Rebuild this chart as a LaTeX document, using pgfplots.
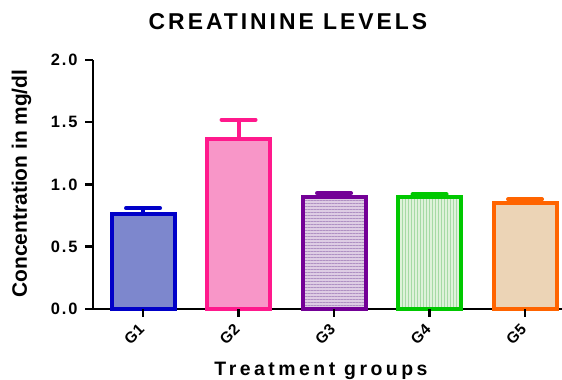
\documentclass[border=0pt]{standalone}
\usepackage{pgfplots}
\pgfplotsset{compat=1.18}
\usepackage{fontspec}
\setmainfont{Liberation Sans}
\usetikzlibrary{patterns.meta}
\definecolor{b1}{RGB}{0,0,200}
\definecolor{f1}{RGB}{125,135,205}
\definecolor{b2}{RGB}{255,25,140}
\definecolor{f2}{RGB}{248,150,200}
\definecolor{b3}{RGB}{115,0,150}
\definecolor{f3}{RGB}{222,205,228}
\definecolor{p3}{RGB}{175,145,195}
\definecolor{b4}{RGB}{0,200,0}
\definecolor{f4}{RGB}{222,242,218}
\definecolor{p4}{RGB}{165,218,165}
\definecolor{b5}{RGB}{255,100,0}
\definecolor{f5}{RGB}{236,212,182}
\newcommand{\ticklabfont}{\bfseries\fontsize{16.5}{18}\selectfont\addfontfeatures{LetterSpace=12}}
\pgfplotsset{
  mybar/.style={ybar, bar width=63bp, bar shift=0pt, draw=#1, line width=4bp,
    error bars/y dir=plus, error bars/y explicit,
    error bars/error bar style={line width=4bp, #1},
    error bars/error mark options={rotate=90, line width=4bp, #1, mark size=17bp, line cap=round}},
}
\begin{document}
\begin{tikzpicture}
\begin{axis}[
  at={(0,0)}, anchor=south west,
  scale only axis, width=469bp, height=249bp,
  xmin=-0.524, xmax=4.387, ymin=0, ymax=2,
  axis x line=bottom, axis y line=left,
  axis line style={line width=2.5bp, black, -},
  tick align=outside,
  ytick={0,0.5,1,1.5,2},
  yticklabels={0.0,0.5,1.0,1.5,2.0},
  xtick={0,1,2,3,4},
  xticklabels={G1,G2,G3,G4,G5},
  yticklabel style={font=\ticklabfont, inner xsep=2bp, xshift=-9bp},
  xticklabel style={yshift=-12bp, font=\bfseries\fontsize{15.5}{18}\selectfont, rotate=45, anchor=east, inner sep=2bp},
  clip=false,
]
\addplot[mybar=b1, fill=f1]
  coordinates {(0,0.76) +- (0,0.05)};
\addplot[mybar=b2, fill=f2]
  coordinates {(1,1.365) +- (0,0.155)};
\addplot[mybar=b3, fill=f3,
  postaction={pattern={Lines[angle=0,distance=3bp,line width=0.9bp]}, pattern color=p3}]
  coordinates {(2,0.90) +- (0,0.03)};
\addplot[mybar=b4, fill=f4,
  postaction={pattern={Lines[angle=90,distance=3bp,line width=0.9bp]}, pattern color=p4}]
  coordinates {(3,0.90) +- (0,0.02)};
\addplot[mybar=b5, fill=f5]
  coordinates {(4,0.85) +- (0,0.03)};
\pgfplotsinvokeforeach{0,1,2,3,4}{
  \draw[black, line width=2.5bp] (axis cs:#1,0) -- (axis cs:#1,-0.064);
}
\pgfplotsinvokeforeach{0,0.5,1,1.5,2}{
  \draw[black, line width=2.5bp] (axis cs:-0.524,#1) -- (axis cs:-0.608,#1);
}
\end{axis}
\node[anchor=base, font=\bfseries\fontsize{23}{26}\selectfont\addfontfeatures{LetterSpace=13}] at (195bp,279bp) {CREATININE LEVELS};
\node[anchor=base, font=\bfseries\fontsize{19.5}{22}\selectfont\addfontfeatures{LetterSpace=18}] at (228bp,-66bp) {Treatment groups};
\node[anchor=base, rotate=90, font=\bfseries\fontsize{21}{24}\selectfont] at (-66bp,125.5bp) {Concentration in mg/dl};
\pgfresetboundingbox
\path[use as bounding box] (-93bp,-71bp) rectangle (469bp,309bp);
\end{tikzpicture}
\end{document}
